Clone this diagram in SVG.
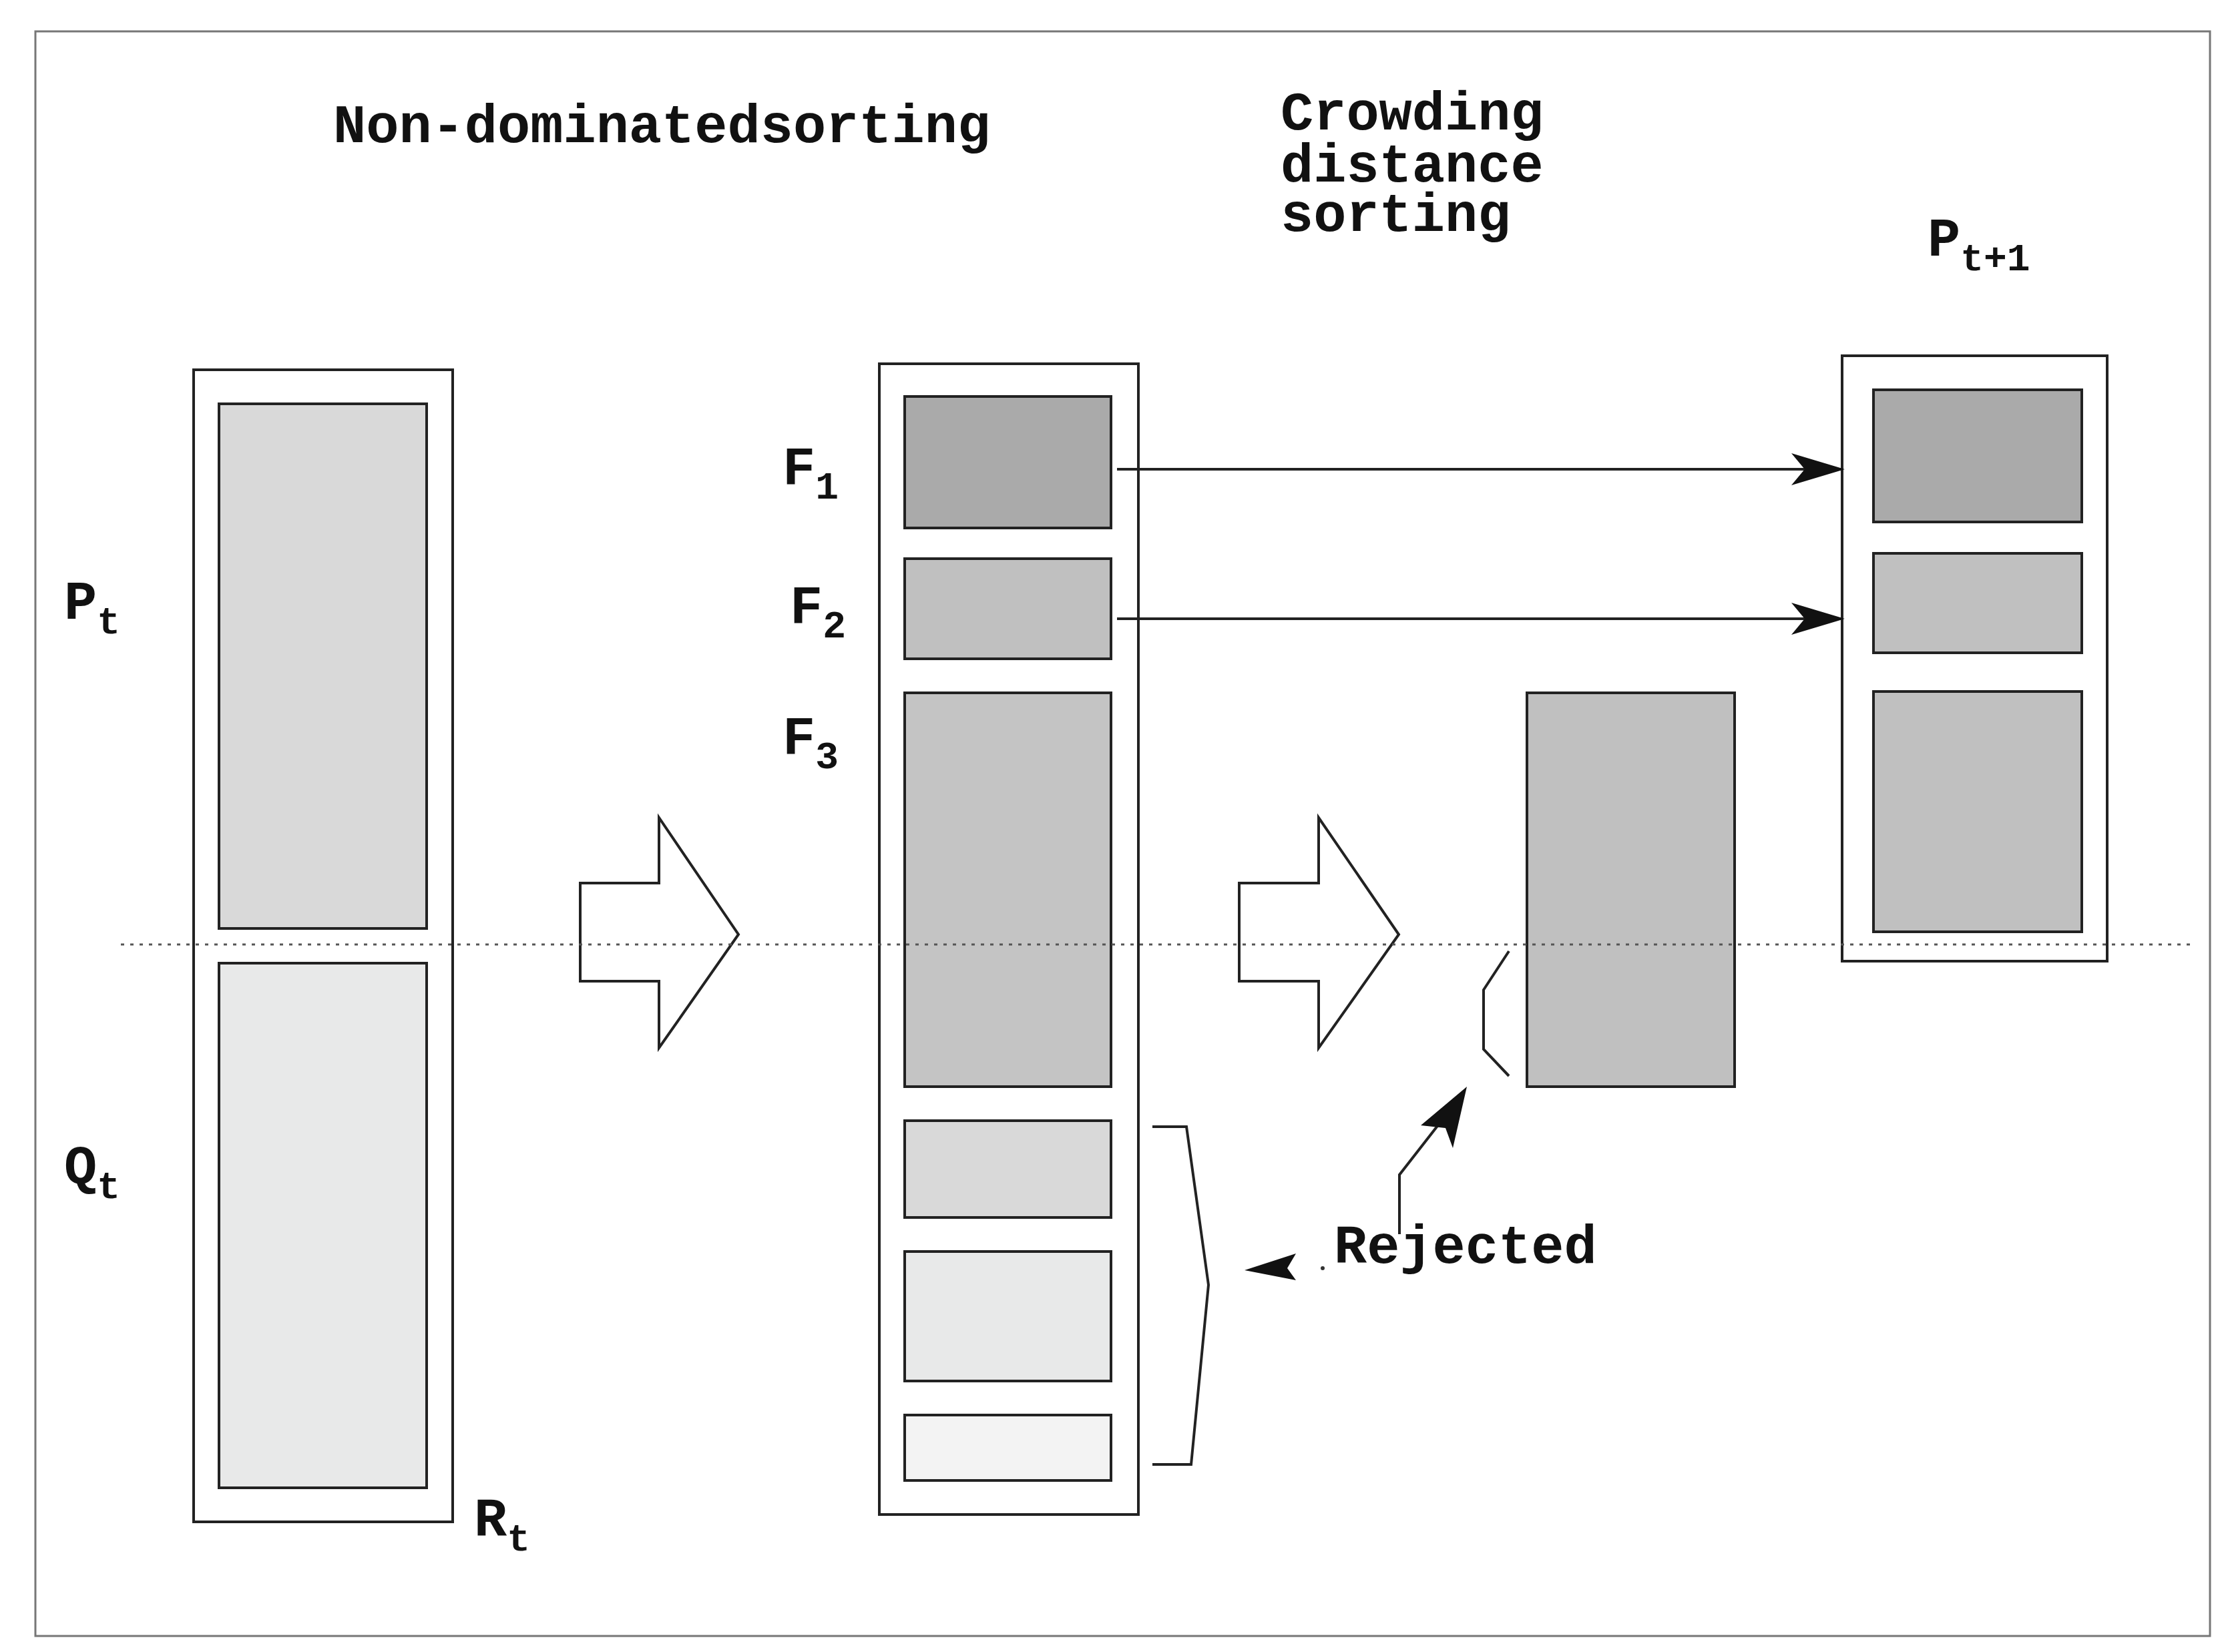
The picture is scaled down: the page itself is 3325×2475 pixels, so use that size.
<svg xmlns="http://www.w3.org/2000/svg" width="3325" height="2475" viewBox="0 0 3325 2475">
<style>
.b{stroke:#222;stroke-width:4;fill:#fff}
.r{stroke:#222;stroke-width:4}
.t{font-family:"Liberation Mono",monospace;font-weight:bold;font-size:82px;fill:#111}
.s{font-size:58px}
.l{stroke:#222;stroke-width:4;fill:none}
</style>
<defs>
<marker id="ah2" viewBox="0 0 20 12" refX="19" refY="6" markerWidth="80" markerHeight="48" markerUnits="userSpaceOnUse" orient="auto"><path d="M0,0 L20,6 L0,12 L5,6 Z" fill="#111"/></marker></defs>
<rect x="0" y="0" width="3325" height="2475" fill="#fff"/>
<rect x="53" y="47" width="3257" height="2404" fill="#fff" stroke="#777" stroke-width="3"/>
<text class="t" x="499" y="213">Non-dominatedsorting</text>
<text class="t" x="1918" y="194">Crowding</text>
<text class="t" x="1918" y="272">distance</text>
<text class="t" x="1918" y="346">sorting</text>
<g id="Rt">
<rect class="b" x="290" y="554" width="388" height="1726"/>
<rect class="r" x="328" y="605" width="311" height="786" fill="#d9d9d9"/>
<rect class="r" x="328" y="1443" width="311" height="786" fill="#e8e9e9"/>
<text class="t" x="96" y="927">P<tspan class="s" dy="22">t</tspan></text>
<text class="t" x="96" y="1773">Q<tspan class="s" dy="22">t</tspan></text>
<text class="t" x="710" y="2301">R<tspan class="s" dy="22">t</tspan></text>
</g>
<g id="sorted">
<rect class="b" x="1317" y="545" width="388" height="1724"/>
<rect class="r" x="1355" y="594" width="309" height="197" fill="#aaaaaa"/>
<rect class="r" x="1355" y="837" width="309" height="150" fill="#c0c0c0"/>
<rect class="r" x="1355" y="1038" width="309" height="590" fill="#c4c4c4"/>
<rect class="r" x="1355" y="1679" width="309" height="145" fill="#d9d9d9"/>
<rect class="r" x="1355" y="1875" width="309" height="194" fill="#e8e9e9"/>
<rect class="r" x="1355" y="2120" width="309" height="98" fill="#f3f3f3"/>
<text class="t" x="1172" y="725">F<tspan class="s" dy="22">1</tspan></text>
<text class="t" x="1183" y="933">F<tspan class="s" dy="22">2</tspan></text>
<text class="t" x="1172" y="1129">F<tspan class="s" dy="22">3</tspan></text>
</g>
<g id="F3sorted"><rect class="r" x="2287" y="1038" width="311" height="590" fill="#c0c0c0"/></g>
<g id="Pt1">
<rect class="b" x="2759" y="533" width="397" height="907"/>
<rect class="r" x="2806" y="584" width="312" height="198" fill="#aaaaaa"/>
<rect class="r" x="2806" y="829" width="312" height="149" fill="#c0c0c0"/>
<rect class="r" x="2806" y="1036" width="312" height="360" fill="#c0c0c0"/>
<text class="t" x="2887" y="383">P<tspan class="s" dy="22">t+1</tspan></text>
</g>
<g id="rejected"><text class="t" x="1998" y="1892">Rejected</text></g>
<g id="connectors">
<path class="b" d="M869,1323 H987 V1225 L1106,1400 L987,1570 V1470 H869 Z"/>
<path class="b" d="M1856,1323 H1975 V1225 L2095,1400 L1975,1570 V1470 H1856 Z"/>
<line class="l" x1="1673" y1="703" x2="2759" y2="703" marker-end="url(#ah2)"/>
<line class="l" x1="1673" y1="927" x2="2759" y2="927" marker-end="url(#ah2)"/>
<path class="l" d="M1726,1688 H1777 L1810,1925 L1784,2194 H1726"/>
<path d="M1864,1903 L1941,1878 L1928,1900 L1941,1918 Z" fill="#111"/>
<circle cx="1981" cy="1900" r="3" fill="#333"/>
<path class="l" d="M2096,1849 V1760 L2170,1665"/>
<path d="M2197,1628 L2176,1720 L2165,1690 L2128,1686 Z" fill="#111"/>
<path class="l" d="M2260,1425 L2222,1483 V1572 L2260,1612"/>
<line x1="181" y1="1415" x2="3282" y2="1415" stroke="#555" stroke-width="3" stroke-dasharray="5,9"/>
</g>
</svg>
